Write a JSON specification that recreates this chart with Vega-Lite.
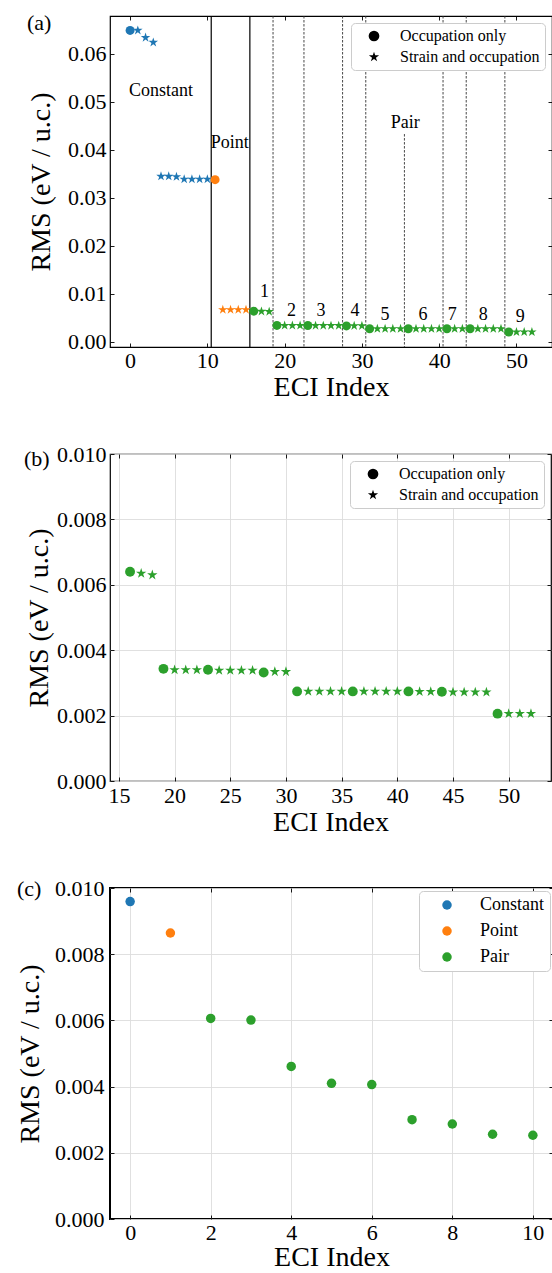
{
  "$schema": "https://vega.github.io/schema/vega-lite/v6.json",
  "padding": {"left": 15, "top": 11, "right": 0, "bottom": 0},
  "background": "white",
  "bounds": "flush",
  "spacing": 107,
  "resolve": {"scale": {"color": "independent", "shape": "independent"}, "legend": {"color": "independent", "shape": "independent"}},
  "config": {
    "font": "Liberation Serif",
    "view": {"stroke": "black", "strokeWidth": 1.2},
    "axis": {"domain": false, "gridColor": "#dcdcdc", "gridWidth": 0.9, "tickColor": "black", "tickSize": -4, "tickWidth": 0.9, "labelFont": "Liberation Serif", "labelFontSize": 22, "labelColor": "black", "labelPadding": 8, "labelFlush": false, "labelOverlap": false, "titleFont": "Liberation Serif", "titleFontSize": 28, "titleFontWeight": "normal", "titleColor": "black"},
    "legend": {"labelFont": "Liberation Serif", "labelColor": "black"},
    "title": {"font": "Liberation Serif", "fontSize": 22, "fontWeight": "normal", "anchor": "start", "frame": "group", "baseline": "middle", "color": "black"},
    "text": {"font": "Liberation Serif"}
  },
  "datasets": {
    "a": [
      {"idx": 0, "rms": 0.0649, "group": "Constant", "kind": "Occupation only"},
      {"idx": 1, "rms": 0.0649, "group": "Constant", "kind": "Strain and occupation"},
      {"idx": 2, "rms": 0.0634, "group": "Constant", "kind": "Strain and occupation"},
      {"idx": 3, "rms": 0.0624, "group": "Constant", "kind": "Strain and occupation"},
      {"idx": 4, "rms": 0.0345, "group": "Constant", "kind": "Strain and occupation"},
      {"idx": 5, "rms": 0.0345, "group": "Constant", "kind": "Strain and occupation"},
      {"idx": 6, "rms": 0.0344, "group": "Constant", "kind": "Strain and occupation"},
      {"idx": 7, "rms": 0.0339, "group": "Constant", "kind": "Strain and occupation"},
      {"idx": 8, "rms": 0.0339, "group": "Constant", "kind": "Strain and occupation"},
      {"idx": 9, "rms": 0.0339, "group": "Constant", "kind": "Strain and occupation"},
      {"idx": 10, "rms": 0.0339, "group": "Constant", "kind": "Strain and occupation"},
      {"idx": 11, "rms": 0.0338, "group": "Point", "kind": "Occupation only"},
      {"idx": 12, "rms": 0.0067, "group": "Point", "kind": "Strain and occupation"},
      {"idx": 13, "rms": 0.0067, "group": "Point", "kind": "Strain and occupation"},
      {"idx": 14, "rms": 0.0067, "group": "Point", "kind": "Strain and occupation"},
      {"idx": 15, "rms": 0.0067, "group": "Point", "kind": "Strain and occupation"},
      {"idx": 16, "rms": 0.0064, "group": "Pair", "kind": "Occupation only"},
      {"idx": 17, "rms": 0.00635, "group": "Pair", "kind": "Strain and occupation"},
      {"idx": 18, "rms": 0.0063, "group": "Pair", "kind": "Strain and occupation"},
      {"idx": 19, "rms": 0.00343, "group": "Pair", "kind": "Occupation only"},
      {"idx": 20, "rms": 0.0034, "group": "Pair", "kind": "Strain and occupation"},
      {"idx": 21, "rms": 0.0034, "group": "Pair", "kind": "Strain and occupation"},
      {"idx": 22, "rms": 0.0034, "group": "Pair", "kind": "Strain and occupation"},
      {"idx": 23, "rms": 0.0034, "group": "Pair", "kind": "Occupation only"},
      {"idx": 24, "rms": 0.00338, "group": "Pair", "kind": "Strain and occupation"},
      {"idx": 25, "rms": 0.00338, "group": "Pair", "kind": "Strain and occupation"},
      {"idx": 26, "rms": 0.00338, "group": "Pair", "kind": "Strain and occupation"},
      {"idx": 27, "rms": 0.00338, "group": "Pair", "kind": "Strain and occupation"},
      {"idx": 28, "rms": 0.00332, "group": "Pair", "kind": "Occupation only"},
      {"idx": 29, "rms": 0.00334, "group": "Pair", "kind": "Strain and occupation"},
      {"idx": 30, "rms": 0.00334, "group": "Pair", "kind": "Strain and occupation"},
      {"idx": 31, "rms": 0.00274, "group": "Pair", "kind": "Occupation only"},
      {"idx": 32, "rms": 0.00274, "group": "Pair", "kind": "Strain and occupation"},
      {"idx": 33, "rms": 0.00274, "group": "Pair", "kind": "Strain and occupation"},
      {"idx": 34, "rms": 0.00274, "group": "Pair", "kind": "Strain and occupation"},
      {"idx": 35, "rms": 0.00274, "group": "Pair", "kind": "Strain and occupation"},
      {"idx": 36, "rms": 0.00274, "group": "Pair", "kind": "Occupation only"},
      {"idx": 37, "rms": 0.00274, "group": "Pair", "kind": "Strain and occupation"},
      {"idx": 38, "rms": 0.00274, "group": "Pair", "kind": "Strain and occupation"},
      {"idx": 39, "rms": 0.00274, "group": "Pair", "kind": "Strain and occupation"},
      {"idx": 40, "rms": 0.00274, "group": "Pair", "kind": "Strain and occupation"},
      {"idx": 41, "rms": 0.00274, "group": "Pair", "kind": "Occupation only"},
      {"idx": 42, "rms": 0.00273, "group": "Pair", "kind": "Strain and occupation"},
      {"idx": 43, "rms": 0.00273, "group": "Pair", "kind": "Strain and occupation"},
      {"idx": 44, "rms": 0.00273, "group": "Pair", "kind": "Occupation only"},
      {"idx": 45, "rms": 0.00272, "group": "Pair", "kind": "Strain and occupation"},
      {"idx": 46, "rms": 0.00272, "group": "Pair", "kind": "Strain and occupation"},
      {"idx": 47, "rms": 0.00272, "group": "Pair", "kind": "Strain and occupation"},
      {"idx": 48, "rms": 0.00272, "group": "Pair", "kind": "Strain and occupation"},
      {"idx": 49, "rms": 0.00206, "group": "Pair", "kind": "Occupation only"},
      {"idx": 50, "rms": 0.00206, "group": "Pair", "kind": "Strain and occupation"},
      {"idx": 51, "rms": 0.00206, "group": "Pair", "kind": "Strain and occupation"},
      {"idx": 52, "rms": 0.00206, "group": "Pair", "kind": "Strain and occupation"}
    ],
    "c": [
      {"idx": 0, "rms": 0.00959, "group": "Constant"},
      {"idx": 1, "rms": 0.00864, "group": "Point"},
      {"idx": 2, "rms": 0.00606, "group": "Pair"},
      {"idx": 3, "rms": 0.00601, "group": "Pair"},
      {"idx": 4, "rms": 0.00461, "group": "Pair"},
      {"idx": 5, "rms": 0.0041, "group": "Pair"},
      {"idx": 6, "rms": 0.00406, "group": "Pair"},
      {"idx": 7, "rms": 0.003, "group": "Pair"},
      {"idx": 8, "rms": 0.00287, "group": "Pair"},
      {"idx": 9, "rms": 0.00256, "group": "Pair"},
      {"idx": 10, "rms": 0.00253, "group": "Pair"}
    ],
    "ann": [
      {"x": 4, "y": 0.0523, "label": "Constant"},
      {"x": 12.9, "y": 0.0414, "label": "Point"},
      {"x": 35.6, "y": 0.0456, "label": "Pair"},
      {"x": 17.4, "y": 0.0104, "label": "1"},
      {"x": 20.9, "y": 0.0065, "label": "2"},
      {"x": 24.7, "y": 0.0065, "label": "3"},
      {"x": 29.1, "y": 0.0065, "label": "4"},
      {"x": 33.0, "y": 0.0056, "label": "5"},
      {"x": 37.9, "y": 0.0057, "label": "6"},
      {"x": 41.7, "y": 0.0057, "label": "7"},
      {"x": 45.7, "y": 0.0057, "label": "8"},
      {"x": 50.5, "y": 0.0051, "label": "9"}
    ],
    "solid": [{"x": 10.5}, {"x": 15.5}],
    "dashed": [{"x": 18.5}, {"x": 22.5}, {"x": 27.5}, {"x": 30.5}, {"x": 40.5}, {"x": 43.5}, {"x": 48.5}],
    "pairline": [{"x": 35.5, "top": 0.0433}]
  },
  "vconcat": [
    {
      "width": 442,
      "height": 331,
      "title": {"text": "(a)", "dx": -83, "offset": -20},
      "resolve": {"axis": {"x": "independent", "y": "independent"}},
      "layer": [
        {
          "data": {"name": "solid"},
          "mark": {"type": "rule", "color": "black", "strokeWidth": 1.2},
          "encoding": {"x": {"field": "x", "type": "quantitative", "scale": {"domain": [-2.6, 54.6], "nice": false, "zero": false}, "axis": null}}
        },
        {
          "data": {"name": "dashed"},
          "mark": {"type": "rule", "color": "#333333", "strokeWidth": 0.9, "strokeDash": [2.5, 1.5]},
          "encoding": {"x": {"field": "x", "type": "quantitative", "scale": {"domain": [-2.6, 54.6], "nice": false, "zero": false}, "axis": null}}
        },
        {
          "data": {"name": "pairline"},
          "mark": {"type": "rule", "color": "#333333", "strokeWidth": 0.9, "strokeDash": [2.5, 1.5]},
          "encoding": {
            "x": {"field": "x", "type": "quantitative", "scale": {"domain": [-2.6, 54.6], "nice": false, "zero": false}, "axis": null},
            "y": {"field": "top", "type": "quantitative", "scale": {"domain": [-0.00107, 0.0679], "nice": false, "zero": false}, "axis": null},
            "y2": {"value": "height"}
          }
        },
        {
          "data": {"name": "a"},
          "transform": [{"filter": "datum.kind == 'Strain and occupation'"}],
          "mark": {"type": "point", "filled": true, "size": 100, "opacity": 1, "strokeWidth": 0},
          "encoding": {
            "x": {"field": "idx", "type": "quantitative", "scale": {"domain": [-2.6, 54.6], "nice": false, "zero": false}, "axis": {"values": [0, 10, 20, 30, 40, 50], "title": "ECI Index", "titlePadding": 2, "labelPadding": 7}},
            "y": {"field": "rms", "type": "quantitative", "scale": {"domain": [-0.00107, 0.0679], "nice": false, "zero": false}, "axis": {"values": [0, 0.01, 0.02, 0.03, 0.04, 0.05, 0.06], "format": ".2f", "title": "RMS (eV / u.c.)", "titlePadding": 12}},
            "color": {"field": "group", "type": "nominal", "scale": {"domain": ["Constant", "Point", "Pair"], "range": ["#1f77b4", "#ff7f0e", "#2ca02c"]}, "legend": null},
            "shape": {"field": "kind", "type": "nominal", "scale": {"domain": ["Occupation only", "Strain and occupation"], "range": ["circle", "M0,-1L0.2245,-0.309L0.951,-0.309L0.363,0.118L0.588,0.809L0,0.382L-0.588,0.809L-0.363,0.118L-0.951,-0.309L-0.2245,-0.309Z"]}, "legend": {"title": null, "orient": "top-right", "offset": 7, "padding": 5, "symbolOffset": 10, "labelOffset": 18, "rowPadding": 5, "labelFontSize": 16, "symbolSize": 115, "symbolFillColor": "black", "symbolStrokeColor": "black", "symbolStrokeWidth": 0, "symbolOpacity": 1, "strokeColor": "#cccccc", "fillColor": "white", "cornerRadius": 4}}
          }
        },
        {
          "data": {"name": "a"},
          "transform": [{"filter": "datum.kind == 'Occupation only'"}],
          "mark": {"type": "point", "filled": true, "size": 81, "opacity": 1, "strokeWidth": 0},
          "encoding": {
            "x": {"field": "idx", "type": "quantitative", "scale": {"domain": [-2.6, 54.6], "nice": false, "zero": false}, "axis": null},
            "y": {"field": "rms", "type": "quantitative", "scale": {"domain": [-0.00107, 0.0679], "nice": false, "zero": false}, "axis": null},
            "color": {"field": "group", "type": "nominal", "scale": {"domain": ["Constant", "Point", "Pair"], "range": ["#1f77b4", "#ff7f0e", "#2ca02c"]}, "legend": null},
            "shape": {"field": "kind", "type": "nominal", "scale": {"domain": ["Occupation only", "Strain and occupation"], "range": ["circle", "M0,-1L0.2245,-0.309L0.951,-0.309L0.363,0.118L0.588,0.809L0,0.382L-0.588,0.809L-0.363,0.118L-0.951,-0.309L-0.2245,-0.309Z"]}, "legend": {"title": null, "orient": "top-right", "offset": 7, "padding": 5, "symbolOffset": 10, "labelOffset": 18, "rowPadding": 5, "labelFontSize": 16, "symbolSize": 115, "symbolFillColor": "black", "symbolStrokeColor": "black", "symbolStrokeWidth": 0, "symbolOpacity": 1, "strokeColor": "#cccccc", "fillColor": "white", "cornerRadius": 4}}
          }
        },
        {
          "data": {"name": "ann"},
          "mark": {"type": "text", "fontSize": 18, "align": "center", "baseline": "middle", "color": "black"},
          "encoding": {
            "x": {"field": "x", "type": "quantitative", "scale": {"domain": [-2.6, 54.6], "nice": false, "zero": false}, "axis": null},
            "y": {"field": "y", "type": "quantitative", "scale": {"domain": [-0.00107, 0.0679], "nice": false, "zero": false}, "axis": null},
            "text": {"field": "label"}
          }
        },
        {
          "data": {"name": "a"},
          "mark": {"type": "point", "opacity": 0},
          "encoding": {
            "x": {"field": "idx", "type": "quantitative", "scale": {"domain": [-2.6, 54.6], "nice": false, "zero": false}, "axis": {"orient": "top", "labels": false, "grid": false, "title": null, "values": [0, 10, 20, 30, 40, 50]}},
            "y": {"field": "rms", "type": "quantitative", "scale": {"domain": [-0.00107, 0.0679], "nice": false, "zero": false}, "axis": {"orient": "right", "labels": false, "grid": false, "title": null, "values": [0, 0.01, 0.02, 0.03, 0.04, 0.05, 0.06]}}
          }
        }
      ]
    },
    {
      "width": 441,
      "height": 327,
      "title": {"text": "(b)", "dx": -86, "offset": -27.7},
      "resolve": {"axis": {"x": "independent", "y": "independent"}},
      "layer": [
        {
          "data": {"name": "a"},
          "transform": [{"filter": "datum.idx >= 16 && datum.kind == 'Strain and occupation'"}],
          "mark": {"type": "point", "filled": true, "size": 118, "opacity": 1, "strokeWidth": 0},
          "encoding": {
            "x": {"field": "idx", "type": "quantitative", "scale": {"domain": [14.2, 53.8], "nice": false, "zero": false}, "axis": {"values": [15, 20, 25, 30, 35, 40, 45, 50], "title": "ECI Index", "titlePadding": 2, "labelPadding": 8}},
            "y": {"field": "rms", "type": "quantitative", "scale": {"domain": [0, 0.01], "nice": false, "zero": false}, "axis": {"values": [0, 0.002, 0.004, 0.006, 0.008, 0.01], "format": ".3f", "title": "RMS (eV / u.c.)", "titlePadding": 3}},
            "color": {"field": "group", "type": "nominal", "scale": {"domain": ["Constant", "Point", "Pair"], "range": ["#1f77b4", "#ff7f0e", "#2ca02c"]}, "legend": null},
            "shape": {"field": "kind", "type": "nominal", "scale": {"domain": ["Occupation only", "Strain and occupation"], "range": ["circle", "M0,-1L0.2245,-0.309L0.951,-0.309L0.363,0.118L0.588,0.809L0,0.382L-0.588,0.809L-0.363,0.118L-0.951,-0.309L-0.2245,-0.309Z"]}, "legend": {"title": null, "orient": "top-right", "offset": 7, "padding": 5, "symbolOffset": 10, "labelOffset": 18, "rowPadding": 5, "labelFontSize": 16, "symbolSize": 115, "symbolFillColor": "black", "symbolStrokeColor": "black", "symbolStrokeWidth": 0, "symbolOpacity": 1, "strokeColor": "#cccccc", "fillColor": "white", "cornerRadius": 4}}
          }
        },
        {
          "data": {"name": "a"},
          "transform": [{"filter": "datum.idx >= 16 && datum.kind == 'Occupation only'"}],
          "mark": {"type": "point", "filled": true, "size": 98, "opacity": 1, "strokeWidth": 0},
          "encoding": {
            "x": {"field": "idx", "type": "quantitative", "scale": {"domain": [14.2, 53.8], "nice": false, "zero": false}, "axis": null},
            "y": {"field": "rms", "type": "quantitative", "scale": {"domain": [0, 0.01], "nice": false, "zero": false}, "axis": null},
            "color": {"field": "group", "type": "nominal", "scale": {"domain": ["Constant", "Point", "Pair"], "range": ["#1f77b4", "#ff7f0e", "#2ca02c"]}, "legend": null},
            "shape": {"field": "kind", "type": "nominal", "scale": {"domain": ["Occupation only", "Strain and occupation"], "range": ["circle", "M0,-1L0.2245,-0.309L0.951,-0.309L0.363,0.118L0.588,0.809L0,0.382L-0.588,0.809L-0.363,0.118L-0.951,-0.309L-0.2245,-0.309Z"]}, "legend": {"title": null, "orient": "top-right", "offset": 7, "padding": 5, "symbolOffset": 10, "labelOffset": 18, "rowPadding": 5, "labelFontSize": 16, "symbolSize": 115, "symbolFillColor": "black", "symbolStrokeColor": "black", "symbolStrokeWidth": 0, "symbolOpacity": 1, "strokeColor": "#cccccc", "fillColor": "white", "cornerRadius": 4}}
          }
        },
        {
          "data": {"name": "a"},
          "transform": [{"filter": "datum.idx >= 16"}],
          "mark": {"type": "point", "opacity": 0},
          "encoding": {
            "x": {"field": "idx", "type": "quantitative", "scale": {"domain": [14.2, 53.8], "nice": false, "zero": false}, "axis": {"orient": "top", "labels": false, "grid": false, "title": null, "values": [15, 20, 25, 30, 35, 40, 45, 50]}},
            "y": {"field": "rms", "type": "quantitative", "scale": {"domain": [0, 0.01], "nice": false, "zero": false}, "axis": {"orient": "right", "labels": false, "grid": false, "title": null, "values": [0, 0.002, 0.004, 0.006, 0.008, 0.01]}}
          }
        }
      ]
    },
    {
      "width": 443,
      "height": 331,
      "title": {"text": "(c)", "dx": -93, "offset": -23.5},
      "view": {"stroke": "black", "strokeWidth": 2},
      "resolve": {"axis": {"x": "independent", "y": "independent"}},
      "layer": [
        {
          "data": {"name": "c"},
          "mark": {"type": "point", "filled": true, "size": 90, "opacity": 1, "strokeWidth": 0},
          "encoding": {
            "x": {"field": "idx", "type": "quantitative", "scale": {"domain": [-0.5, 10.5], "nice": false, "zero": false}, "axis": {"values": [0, 2, 4, 6, 8, 10], "title": "ECI Index", "titlePadding": 0, "labelPadding": 7}},
            "y": {"field": "rms", "type": "quantitative", "scale": {"domain": [0, 0.01], "nice": false, "zero": false}, "axis": {"values": [0, 0.002, 0.004, 0.006, 0.008, 0.01], "format": ".3f", "title": "RMS (eV / u.c.)", "titlePadding": 10, "labelPadding": 10}},
            "color": {"field": "group", "type": "nominal", "scale": {"domain": ["Constant", "Point", "Pair"], "range": ["#1f77b4", "#ff7f0e", "#2ca02c"]}, "legend": {"title": null, "orient": "top-right", "offset": 3, "padding": 5, "symbolOffset": 14, "labelOffset": 24, "rowPadding": 8, "labelFontSize": 18, "symbolSize": 90, "symbolType": "circle", "symbolOpacity": 1, "symbolStrokeWidth": 0, "strokeColor": "#cccccc", "fillColor": "white", "cornerRadius": 4}}
          }
        },
        {
          "data": {"name": "c"},
          "mark": {"type": "point", "opacity": 0},
          "encoding": {
            "x": {"field": "idx", "type": "quantitative", "scale": {"domain": [-0.5, 10.5], "nice": false, "zero": false}, "axis": {"orient": "top", "labels": false, "grid": false, "title": null, "values": [0, 2, 4, 6, 8, 10]}},
            "y": {"field": "rms", "type": "quantitative", "scale": {"domain": [0, 0.01], "nice": false, "zero": false}, "axis": {"orient": "right", "labels": false, "grid": false, "title": null, "values": [0, 0.002, 0.004, 0.006, 0.008, 0.01]}}
          }
        }
      ]
    }
  ]
}
